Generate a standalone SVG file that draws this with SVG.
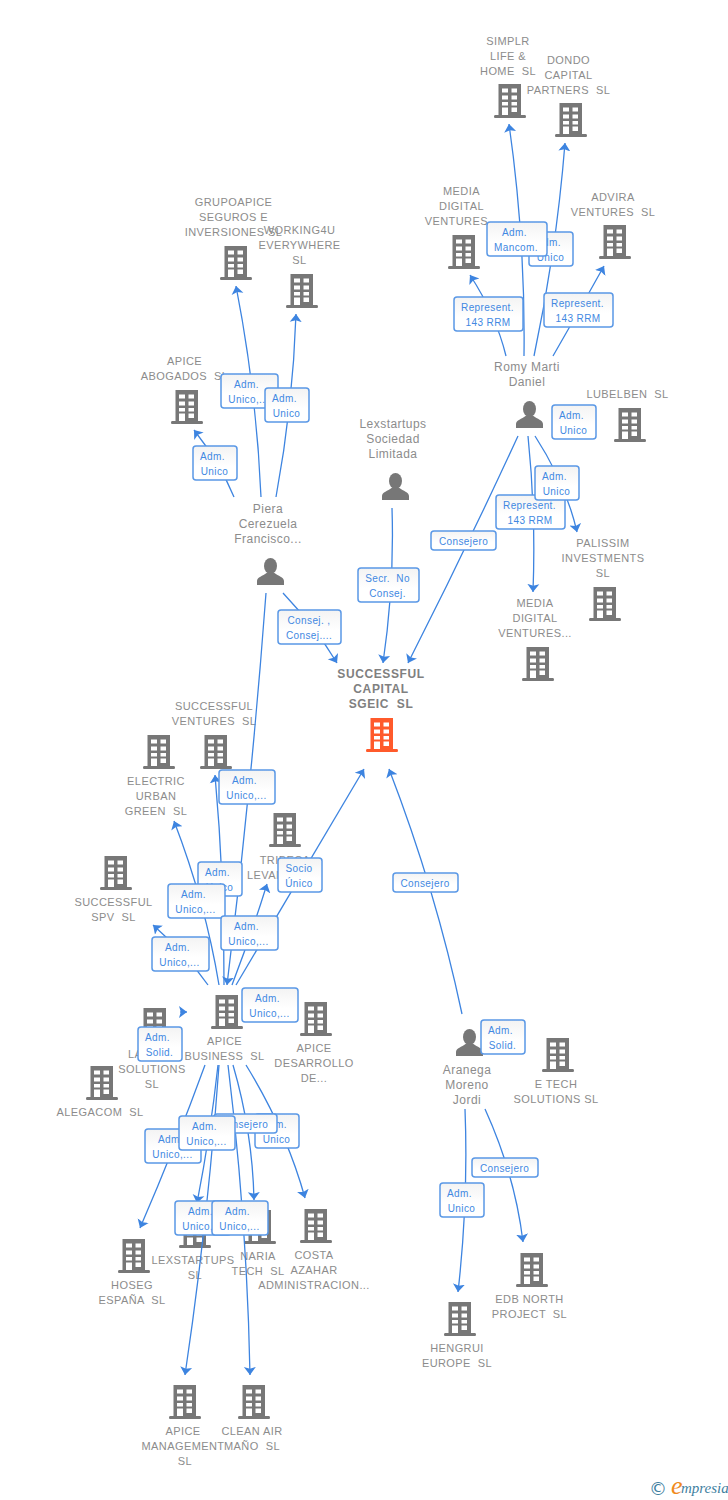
<svg xmlns="http://www.w3.org/2000/svg" width="728" height="1500" viewBox="0 0 728 1500">
<style>
text{font-family:"Liberation Sans",Arial,sans-serif;white-space:pre}
.n{font-size:11px;letter-spacing:.42px;fill:#8c8c8c;text-anchor:middle}
.p{font-size:12px;letter-spacing:.45px;fill:#8c8c8c;text-anchor:middle}
.c{font-size:12px;font-weight:bold;letter-spacing:.6px;fill:#808080;text-anchor:middle}
.l{fill:none;stroke:#3d84e0;stroke-width:1.3;marker-end:url(#a)}
.b rect{fill:url(#g);stroke:#5a98e6;stroke-width:1.5}
.b text{font-size:10px;letter-spacing:.4px;fill:#4288e2;text-anchor:middle}
.i{fill:#777}
.o{fill:#ff5a2b}
</style>
<defs>
<marker id="a" markerUnits="userSpaceOnUse" markerWidth="12" markerHeight="14" refX="8" refY="6.500" orient="auto"><path d="M8 6.500L0 .5L1.800 6.500L0 12.500Z" fill="#3d84e0"/></marker>
<linearGradient id="g" x1="0" y1="0" x2="0" y2="1"><stop offset="0" stop-color="#f3f3f3"/><stop offset=".6" stop-color="#fff"/><stop offset="1" stop-color="#fff"/></linearGradient>
<g id="bd"><path d="M4.500 0H27V31H31Q32 31 32 32.500Q32 34 31 34H1Q0 34 0 32.500Q0 31 1 31H4.500Z"/><path fill="#fff" d="M8 4.500h6v4h-6zM17.500 4.500h5.500v4h-5.500zM8 11.500h6v4h-6zM17.500 11.500h5.500v4h-5.500zM8 18h6v3.500h-6zM17.500 18h5.500v3.500h-5.500zM8 23.500h6v7.500h-6zM17.500 23.500h5.500v4.500h-5.500z"/></g>
<g id="pr"><ellipse cx="13.500" cy="8" rx="6.500" ry="8"/><path d="M0 27V23C0 19 6 18 9.500 15H17.500C21 18 27 19 27 23V27Z"/></g>
</defs>

<g id="n-simplr"><use href="#bd" class="i" x="494" y="84"/><text class="n" x="508" y="45">SIMPLR</text><text class="n" x="508" y="60">LIFE &amp;</text><text class="n" x="508" y="75">HOME  SL</text></g>
<g id="n-dondo"><use href="#bd" class="i" x="555" y="103"/><text class="n" x="568.500" y="64">DONDO</text><text class="n" x="568.500" y="79">CAPITAL</text><text class="n" x="568.500" y="94">PARTNERS  SL</text></g>
<g id="n-media1"><use href="#bd" class="i" x="448" y="235"/><text class="n" x="461.500" y="195">MEDIA</text><text class="n" x="461.500" y="210">DIGITAL</text><text class="n" x="461.500" y="225">VENTURES...</text></g>
<g id="n-advira"><use href="#bd" class="i" x="599" y="225"/><text class="n" x="613" y="201">ADVIRA</text><text class="n" x="613" y="216">VENTURES  SL</text></g>
<g id="n-romy"><use href="#pr" class="i" x="516" y="401"/><text class="p" x="527" y="371">Romy Marti</text><text class="p" x="527" y="386">Daniel</text></g>
<g id="n-lubelben"><use href="#bd" class="i" x="614" y="408"/><text class="n" x="627.500" y="398">LUBELBEN  SL</text></g>
<g id="n-palissim"><use href="#bd" class="i" x="589" y="587"/><text class="n" x="603" y="547">PALISSIM</text><text class="n" x="603" y="562">INVESTMENTS</text><text class="n" x="603" y="577">SL</text></g>
<g id="n-media2"><use href="#bd" class="i" x="522" y="647"/><text class="n" x="535" y="607">MEDIA</text><text class="n" x="535" y="622">DIGITAL</text><text class="n" x="535" y="637">VENTURES...</text></g>
<g id="n-grupo"><use href="#bd" class="i" x="220" y="246"/><text class="n" x="233.500" y="206">GRUPOAPICE</text><text class="n" x="233.500" y="221">SEGUROS E</text><text class="n" x="233.500" y="236">INVERSIONES SL</text></g>
<g id="n-working"><use href="#bd" class="i" x="286" y="274"/><text class="n" x="299.500" y="234">WORKING4U</text><text class="n" x="299.500" y="249">EVERYWHERE</text><text class="n" x="299.500" y="264">SL</text></g>
<g id="n-abogados"><use href="#bd" class="i" x="171" y="390"/><text class="n" x="184.500" y="365">APICE</text><text class="n" x="184.500" y="380">ABOGADOS  SL</text></g>
<g id="n-lex"><use href="#pr" class="i" x="382" y="473"/><text class="p" x="393" y="428">Lexstartups</text><text class="p" x="393" y="443">Sociedad</text><text class="p" x="393" y="458">Limitada</text></g>
<g id="n-piera"><use href="#pr" class="i" x="257" y="558"/><text class="p" x="268" y="513">Piera</text><text class="p" x="268" y="528">Cerezuela</text><text class="p" x="268" y="543">Francisco...</text></g>
<g id="n-successful"><use href="#bd" class="o" x="366" y="718"/><text class="c" x="381" y="677.500">SUCCESSFUL</text><text class="c" x="381" y="692.500">CAPITAL</text><text class="c" x="381" y="707.500">SGEIC  SL</text></g>
<g id="n-ventures"><use href="#bd" class="i" x="200" y="735"/><text class="n" x="214" y="710">SUCCESSFUL</text><text class="n" x="214" y="725">VENTURES  SL</text></g>
<g id="n-electric"><use href="#bd" class="i" x="143" y="735"/><text class="n" x="156" y="785">ELECTRIC</text><text class="n" x="156" y="800">URBAN</text><text class="n" x="156" y="815">GREEN  SL</text></g>
<g id="n-tribeca"><use href="#bd" class="i" x="269" y="813"/><text class="n" x="285" y="864">TRIBECA</text><text class="n" style="text-anchor:start" x="247" y="879">LEVAN</text></g>
<g id="n-spv"><use href="#bd" class="i" x="100" y="856"/><text class="n" x="113.500" y="906">SUCCESSFUL</text><text class="n" x="113.500" y="921">SPV  SL</text></g>
<g id="n-business"><use href="#bd" class="i" x="211" y="995"/><text class="n" x="224.500" y="1045">APICE</text><text class="n" x="224.500" y="1060">BUSINESS  SL</text></g>
<g id="n-desarrollo"><use href="#bd" class="i" x="300" y="1002"/><text class="n" x="314" y="1052">APICE</text><text class="n" x="314" y="1067">DESARROLLO</text><text class="n" x="314" y="1082">DE...</text></g>
<g id="n-la"><use href="#bd" class="i" x="139" y="1008"/><text class="n" style="text-anchor:start" x="128" y="1058">LA</text><text class="n" x="152" y="1073">SOLUTIONS</text><text class="n" x="152" y="1088">SL</text></g>
<g id="n-alegacom"><use href="#bd" class="i" x="86" y="1066"/><text class="n" x="100" y="1116">ALEGACOM  SL</text></g>
<g id="n-hoseg"><use href="#bd" class="i" x="118" y="1239"/><text class="n" x="132" y="1289">HOSEG</text><text class="n" x="132" y="1304">ESPAÑA  SL</text></g>
<g id="n-lexsl"><use href="#bd" class="i" x="179" y="1214"/><text class="n" x="193" y="1264">LEXSTARTUPS</text><text class="n" x="195" y="1279">SL</text></g>
<g id="n-naria"><use href="#bd" class="i" x="244" y="1210"/><text class="n" x="258" y="1260">NARIA</text><text class="n" x="258" y="1275">TECH  SL</text></g>
<g id="n-costa"><use href="#bd" class="i" x="300" y="1209"/><text class="n" x="314" y="1259">COSTA</text><text class="n" x="314" y="1274">AZAHAR</text><text class="n" x="314" y="1289">ADMINISTRACION...</text></g>
<g id="n-mgmt"><use href="#bd" class="i" x="169" y="1385"/><text class="n" x="183" y="1435">APICE</text><text class="n" x="183" y="1450">MANAGEMENT</text><text class="n" x="185" y="1465">SL</text></g>
<g id="n-clean"><use href="#bd" class="i" x="238" y="1385"/><text class="n" x="252" y="1435">CLEAN AIR</text><text class="n" x="252" y="1450">MAÑO  SL</text></g>
<g id="n-aranega"><use href="#pr" class="i" x="456" y="1029"/><text class="p" x="467" y="1074">Aranega</text><text class="p" x="467" y="1089">Moreno</text><text class="p" x="467" y="1104">Jordi</text></g>
<g id="n-etech"><use href="#bd" class="i" x="542" y="1038"/><text class="n" x="556" y="1088">E TECH</text><text class="n" x="556" y="1103">SOLUTIONS SL</text></g>
<g id="n-edb"><use href="#bd" class="i" x="516" y="1253"/><text class="n" x="529.500" y="1303">EDB NORTH</text><text class="n" x="529.500" y="1318">PROJECT  SL</text></g>
<g id="n-hengrui"><use href="#bd" class="i" x="444" y="1302"/><text class="n" x="457" y="1352">HENGRUI</text><text class="n" x="457" y="1367">EUROPE  SL</text></g>

<g id="connectors">
<path class="l" d="M524 356Q525.500 240 509 124"/>
<path class="l" d="M534 356Q556.500 250 565 143"/>
<path class="l" d="M506 356Q496 315 470 275"/>
<path class="l" d="M553 356Q579 311 604 266"/>
<path class="l" d="M518 436Q465 551 408 663"/>
<path class="l" d="M528 436Q536 514 533 592"/>
<path class="l" d="M535 436Q566 484 577 532"/>
<path class="l" d="M261 497Q256.500 391 236 286"/>
<path class="l" d="M276 497Q293 405 296 314"/>
<path class="l" d="M234 497Q220 463 194 430"/>
<path class="l" d="M283 593Q316 628 337 663"/>
<path class="l" d="M266 593Q251.500 789 227 985"/>
<path class="l" d="M392 508Q394.500 585 383 663"/>
<path class="l" d="M219 985Q205.500 903 174 821"/>
<path class="l" d="M224 985Q224.500 880 215 775"/>
<path class="l" d="M208 985Q187 955 153 925"/>
<path class="l" d="M232 985Q251.500 934 267 884"/>
<path class="l" d="M236 985L364 769"/>
<path class="l" d="M462 1014Q436 891 389 769"/>
<path class="l" d="M180 1012L187 1012"/>
<path class="l" d="M205 1065Q175.500 1146 140 1228"/>
<path class="l" d="M218 1065Q210.500 1134 197 1203"/>
<path class="l" d="M219 1065Q208 1220 185 1375"/>
<path class="l" d="M228 1065Q247 1220 250 1375"/>
<path class="l" d="M233 1065Q252.500 1132 254 1200"/>
<path class="l" d="M246 1065Q286.500 1131 305 1198"/>
<path class="l" d="M465 1109Q468.500 1200 458 1292"/>
<path class="l" d="M485 1109Q515 1175 523 1242"/>

<g class="b"><rect x="529" y="232" width="44" height="34" rx="3"/><text x="548.500" y="246">Adm.</text><text x="550.500" y="261">Unico</text></g>
<g class="b"><rect x="487" y="222" width="60" height="34" rx="3"/><text x="514.500" y="236">Adm.</text><text x="516" y="251">Mancom.</text></g>
<g class="b"><rect x="454" y="297" width="69" height="34" rx="3"/><text x="487.500" y="311">Represent.</text><text x="488" y="326">143 RRM</text></g>
<g class="b"><rect x="544" y="293" width="69" height="34" rx="3"/><text x="577.500" y="307">Represent.</text><text x="578" y="322">143 RRM</text></g>
<g class="b"><rect x="552" y="405" width="44" height="34" rx="3"/><text x="571.500" y="419">Adm.</text><text x="573.500" y="434">Unico</text></g>
<g class="b"><rect x="496" y="495" width="69" height="34" rx="3"/><text x="529.500" y="509">Represent.</text><text x="530" y="524">143 RRM</text></g>
<g class="b"><rect x="535" y="466" width="44" height="34" rx="3"/><text x="554.500" y="480">Adm.</text><text x="556.500" y="495">Unico</text></g>
<g class="b"><rect x="431" y="531" width="65" height="19" rx="3"/><text x="463.500" y="545">Consejero</text></g>
<g class="b"><rect x="221" y="374" width="57" height="34" rx="3"/><text x="246.500" y="388">Adm.</text><text x="248.500" y="403">Unico,...</text></g>
<g class="b"><rect x="265" y="388" width="44" height="34" rx="3"/><text x="284.500" y="402">Adm.</text><text x="286.500" y="417">Unico</text></g>
<g class="b"><rect x="193" y="446" width="44" height="34" rx="3"/><text x="212.500" y="460">Adm.</text><text x="214.500" y="475">Unico</text></g>
<g class="b"><rect x="358" y="568" width="61" height="34" rx="3"/><text x="387.500" y="582">Secr.  No</text><text x="387.500" y="597">Consej.</text></g>
<g class="b"><rect x="278" y="610" width="63" height="34" rx="3"/><text x="309" y="624">Consej. ,</text><text x="309" y="639">Consej....</text></g>
<g class="b"><rect x="219" y="770" width="56" height="34" rx="3"/><text x="244.500" y="784">Adm.</text><text x="246.500" y="799">Unico,...</text></g>
<g class="b"><rect x="198" y="862" width="44" height="34" rx="3"/><text x="217.500" y="876">Adm.</text><text x="219.500" y="891">Unico</text></g>
<g class="b"><rect x="168" y="884" width="57" height="34" rx="3"/><text x="193.500" y="898">Adm.</text><text x="195.500" y="913">Unico,...</text></g>
<g class="b"><rect x="278" y="858" width="44" height="34" rx="3"/><text x="299" y="872">Socio</text><text x="299" y="887">Único</text></g>
<g class="b"><rect x="221" y="916" width="57" height="34" rx="3"/><text x="246.500" y="930">Adm.</text><text x="248.500" y="945">Unico,...</text></g>
<g class="b"><rect x="152" y="937" width="57" height="34" rx="3"/><text x="177.500" y="951">Adm.</text><text x="179.500" y="966">Unico,...</text></g>
<g class="b"><rect x="242" y="988" width="56" height="34" rx="3"/><text x="267.500" y="1002">Adm.</text><text x="269.500" y="1017">Unico,...</text></g>
<g class="b"><rect x="138" y="1027" width="44" height="34" rx="3"/><text x="157.500" y="1041">Adm.</text><text x="159.500" y="1056">Solid.</text></g>
<g class="b"><rect x="145" y="1129" width="56" height="34" rx="3"/><text x="170.500" y="1143">Adm.</text><text x="172.500" y="1158">Unico,...</text></g>
<g class="b"><rect x="255" y="1114" width="44" height="34" rx="3"/><text x="274.500" y="1128">Adm.</text><text x="276.500" y="1143">Unico</text></g>
<g class="b"><rect x="214" y="1114" width="63" height="19" rx="3"/><text x="243.500" y="1128">Consejero</text></g>
<g class="b"><rect x="179" y="1116" width="56" height="34" rx="3"/><text x="204.500" y="1130">Adm.</text><text x="206.500" y="1145">Unico,...</text></g>
<g class="b"><rect x="175" y="1201" width="56" height="34" rx="3"/><text x="200.500" y="1215">Adm.</text><text x="202.500" y="1230">Unico,...</text></g>
<g class="b"><rect x="212" y="1201" width="56" height="34" rx="3"/><text x="237.500" y="1215">Adm.</text><text x="239.500" y="1230">Unico,...</text></g>
<g class="b"><rect x="481" y="1020" width="44" height="34" rx="3"/><text x="500.500" y="1034">Adm.</text><text x="502.500" y="1049">Solid.</text></g>
<g class="b"><rect x="472" y="1158" width="66" height="19" rx="3"/><text x="504.500" y="1172">Consejero</text></g>
<g class="b"><rect x="440" y="1183" width="44" height="34" rx="3"/><text x="459.500" y="1197">Adm.</text><text x="461.500" y="1212">Unico</text></g>
<g class="b"><rect x="393" y="873" width="65" height="19" rx="3"/><text x="425" y="887">Consejero</text></g>
</g>

<g id="logo">
<text x="658" y="1495" font-size="18" fill="#3f7f9f" text-anchor="middle" style="font-family:'DejaVu Sans',sans-serif">©</text>
<text x="671" y="1494" font-size="26" fill="#f08a1d" font-style="italic" style="font-family:'Liberation Serif',serif">e</text>
<text x="681" y="1493" font-size="15" fill="#3f7f9f" font-style="italic" style="font-family:'Liberation Serif',serif">mpresia</text>
</g>
</svg>
